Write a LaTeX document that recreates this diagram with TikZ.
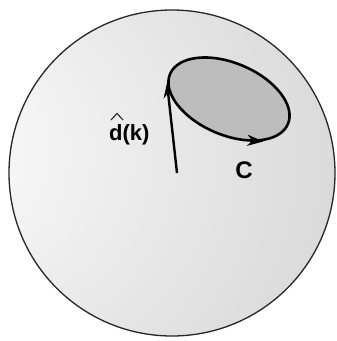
\documentclass[tikz,border=0pt]{standalone}
\usepackage{fontspec}
\setmainfont{Liberation Sans}
\usetikzlibrary{arrows.meta,decorations.markings}
\pgfdeclareradialshading{spherebg}{\pgfpoint{-40bp}{4bp}}{%
  color(0bp)=(white);
  color(12bp)=(black!4);
  color(45bp)=(black!14);
  color(60bp)=(black!19);
  color(100bp)=(black!22)}
\tikzset{
  thickline/.style={line width=2.6pt, draw=black},
  tipstyle/.style={-{Stealth[length=15pt,width=10pt,inset=5pt]}},
  lbl/.style={inner sep=0pt}
}
\begin{document}
\begin{tikzpicture}[x=1pt,y=-1pt]
\useasboundingbox (0,0) rectangle (337,341);
% sphere
\shade[shading=spherebg] (172,173) circle (163);
\draw[line width=1.3pt, black!85] (172,173) circle (163);
% loop C
\draw[thickline, fill=black!26, rotate around={-23:(229,99)},
  postaction={decorate},
  decoration={markings, mark=at position 0.145 with {\arrow{Stealth[length=16pt,width=11pt,inset=5pt,reversed]}}}]
  (229,99) ellipse (64 and 36);
% d(k) arrow
\coordinate (base) at (177,173);
\coordinate (tip) at (167,83);
\draw[thickline, line width=2.4pt, tipstyle] (base) -- (tip);
% labels
\node[lbl, font=\bfseries\fontsize{22}{22}\selectfont, anchor=base west] (dk) at (109,140) {d(k)};
\draw[line width=1.1pt, black!85] (111,120) -- (117,113.5) -- (123,120);
\node[lbl, font=\bfseries\fontsize{24}{24}\selectfont, anchor=base] (C) at (244,178) {C};
\end{tikzpicture}
\end{document}
